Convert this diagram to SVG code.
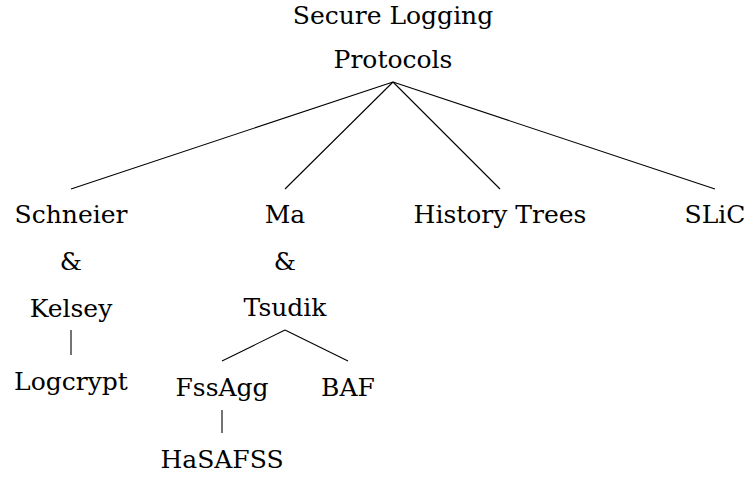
<svg xmlns="http://www.w3.org/2000/svg" width="750" height="477" viewBox="0 0 750 477">
<style>
text{font-family:'DejaVu Serif','Liberation Serif',serif;font-size:25px;fill:#000;text-anchor:middle}
.e{stroke:#000;stroke-width:1.1;fill:none}
</style>
<rect width="750" height="477" fill="#fff"/>
<g id="connectors">
<line class="e" x1="393" y1="82" x2="71" y2="189"/>
<line class="e" x1="393" y1="82" x2="285" y2="189"/>
<line class="e" x1="393" y1="82" x2="500" y2="189"/>
<line class="e" x1="393" y1="82" x2="715" y2="189"/>
<line class="e" x1="71" y1="330" x2="71" y2="355"/>
<line class="e" x1="285" y1="330" x2="222" y2="361"/>
<line class="e" x1="285" y1="330" x2="348" y2="361"/>
<line class="e" x1="222" y1="410" x2="222" y2="433"/>
</g>
<g id="root"><text x="393" y="24">Secure Logging</text><text x="393" y="68">Protocols</text></g>
<g id="schneier"><text x="71" y="223">Schneier</text><text x="71" y="270">&amp;</text><text x="71" y="317">Kelsey</text></g>
<g id="ma"><text x="285" y="223">Ma</text><text x="285" y="270">&amp;</text><text x="285" y="316">Tsudik</text></g>
<g id="history"><text x="500" y="223">History Trees</text></g>
<g id="slic"><text x="715" y="223">SLiC</text></g>
<g id="logcrypt"><text x="71" y="390">Logcrypt</text></g>
<g id="fssagg"><text x="222" y="396">FssAgg</text></g>
<g id="baf"><text x="348" y="396">BAF</text></g>
<g id="hasafss"><text x="222" y="468">HaSAFSS</text></g>
</svg>
